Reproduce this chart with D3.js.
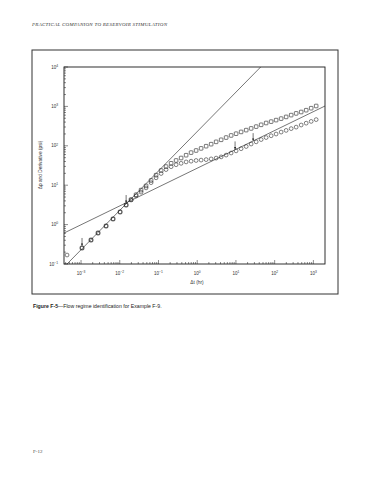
<!DOCTYPE html>
<html><head><meta charset="utf-8">
<script src="https://cdn.jsdelivr.net/npm/d3@7"></script>
<style>body{margin:0;background:#fff}svg{display:block}</style>
</head><body><svg id="c" width="370" height="480"></svg>
<script>
// ---- data ----
const timeEarly = [1.06e-3,1.81e-3,2.75e-3,4.43e-3,6.71e-3,1.02e-2,1.46e-2];
const pEarly = [0.255,0.406,0.612,0.921,1.39,2.09,3.14];
const timeLate = [0.0196,0.0264,0.0355,0.0478,0.0644,0.0867,0.117,0.157,0.212,0.285,
  0.384,0.517,0.695,0.937,1.26,1.70,2.29,3.08,4.15,5.58,7.52,10.1,13.6,18.4,24.7,33.3,
  44.8,60.3,81.2,109,147,198,267,359,484,652,877,1180];
const deltaPLate = [4.21,5.35,6.68,8.54,11.6,15.4,19.8,24.9,29.5,33.1,
  35.9,39.0,40.7,42.4,43.4,44.6,46.5,48.7,52.3,58.1,65.7,74.3,84.4,96.0,111,126,
  144,162,180,199,223,246,273,298,337,375,416,462];
const derivLate = [4.31,5.74,7.51,9.60,13.2,18.0,23.6,29.7,35.9,42.4,
  49.0,57.7,67.2,76.0,85.9,97.7,110,126,142,162,183,203,225,250,276,307,
  341,379,411,449,490,541,601,664,721,801,900,1024];
const firstTime = 4.35e-4, firstDeltaP = 0.169;
const timeDp = [firstTime, ...timeEarly, ...timeLate];
const deltaP = [firstDeltaP, ...pEarly, ...deltaPLate];
const timeDer = [...timeEarly, ...timeLate];
const derivative = [...pEarly, ...derivLate];
const unitSlopeT = [4.35e-4, 43.5];
const unitSlopeP = [0.1, 1e4];
const halfSlopeT = [3.63e-4, 1995];
const halfSlopeP = [0.61, 1023];
const arrowT = [1.06e-3, 1.46e-2, 9.5, 27.8];
const arrowP = [0.255, 3.14, 72, 117];
const xTickExp = [-3,-2,-1,0,1,2,3];
const yTickExp = [-1,0,1,2,3,4];
const xDomain = [Math.pow(10,-3.44), Math.pow(10,3.3)];
const yDomain = [0.1, 1e4];

// ---- drawing ----
const svg = d3.select("#c");
const ink = "#1a1a1a";
const L = 64, R = 325, T = 67, B = 264;
const x = d3.scaleLog().domain(xDomain).range([L, R]);
const y = d3.scaleLog().domain(yDomain).range([B, T]);

svg.append("rect").attr("width",370).attr("height",480).attr("fill","#fff");

// header
svg.append("text").attr("x",32).attr("y",26)
  .attr("font-family","Liberation Serif, serif").attr("font-style","italic")
  .attr("font-size",5).attr("textLength",135).attr("fill","#333")
  .text("PRACTICAL COMPANION TO RESERVOIR STIMULATION");

// outer frame
svg.append("rect").attr("x",32).attr("y",50).attr("width",306).attr("height",244)
  .attr("fill","none").attr("stroke","#333").attr("stroke-width",1);

// plot frame
svg.append("rect").attr("x",L).attr("y",T).attr("width",R-L).attr("height",B-T)
  .attr("fill","none").attr("stroke",ink).attr("stroke-width",0.9);

// ticks
const g = svg.append("g").attr("stroke",ink).attr("stroke-width",0.5);
function logTicks(dom){
  const out=[]; const a=Math.floor(Math.log10(dom[0])), b=Math.ceil(Math.log10(dom[1]));
  for(let e=a;e<=b;e++) for(let m=1;m<10;m++){const v=m*Math.pow(10,e); if(v>=dom[0]&&v<=dom[1]) out.push({v,major:m===1});}
  return out;
}
logTicks(xDomain).forEach(d=>{
  g.append("line").attr("x1",x(d.v)).attr("x2",x(d.v)).attr("y1",B).attr("y2",B-(d.major?4:2));
});
logTicks(yDomain).forEach(d=>{
  g.append("line").attr("y1",y(d.v)).attr("y2",y(d.v)).attr("x1",L).attr("x2",L+(d.major?4:2));
});

// tick labels
const font = "Liberation Sans, Arial, sans-serif";
function pow10(sel, e){
  sel.append("tspan").text("10");
  sel.append("tspan").attr("dy",-1.8).attr("font-size",3.3).text(e<0?"−"+(-e):String(e));
}
xTickExp.forEach(e=>{
  const t = svg.append("text").attr("x",x(Math.pow(10,e))).attr("y",275)
    .attr("text-anchor","middle").attr("font-family",font).attr("font-size",4.5).attr("fill","#333");
  pow10(t,e);
});
yTickExp.forEach(e=>{
  const t = svg.append("text").attr("x",58).attr("y",y(Math.pow(10,e))+1.6)
    .attr("text-anchor","end").attr("font-family",font).attr("font-size",4.5).attr("fill","#333");
  pow10(t,e);
});

// axis titles
svg.append("text").attr("x",197).attr("y",284).attr("text-anchor","middle")
  .attr("font-family",font).attr("font-size",4.8).attr("fill","#333").text("Δt (hr)");
svg.append("text").attr("transform","translate(42,165) rotate(-90)").attr("text-anchor","middle")
  .attr("font-family",font).attr("font-size",4.8).attr("fill","#333").text("Δp and Derivative (psi)");

// reference lines
const line = d3.line().x(d=>x(d[0])).y(d=>y(d[1]));
svg.append("defs").append("clipPath").attr("id","clip").append("rect")
  .attr("x",L).attr("y",T).attr("width",R-L).attr("height",B-T);
const plot = svg.append("g").attr("clip-path","url(#clip)");
plot.append("path").attr("d",line(d3.zip(unitSlopeT,unitSlopeP)))
  .attr("fill","none").attr("stroke",ink).attr("stroke-width",0.6);
plot.append("path").attr("d",line(d3.zip(halfSlopeT,halfSlopeP)))
  .attr("fill","none").attr("stroke",ink).attr("stroke-width",0.6);

// derivative (squares)
plot.selectAll("rect.der").data(d3.zip(timeDer,derivative)).join("rect")
  .attr("class","der").attr("x",d=>x(d[0])-1.8).attr("y",d=>y(d[1])-1.8)
  .attr("width",3.6).attr("height",3.6).attr("rx",0.6)
  .attr("fill","none").attr("stroke",ink).attr("stroke-width",0.6);
// delta p (circles)
plot.selectAll("circle.dp").data(d3.zip(timeDp,deltaP)).join("circle")
  .attr("class","dp").attr("cx",d=>x(d[0])).attr("cy",d=>y(d[1])).attr("r",1.9)
  .attr("fill","none").attr("stroke",ink).attr("stroke-width",0.55);

// arrows
d3.zip(arrowT,arrowP).forEach(d=>{
  const ax=x(d[0]), ay=y(d[1]);
  svg.append("line").attr("x1",ax).attr("x2",ax).attr("y1",ay-10).attr("y2",ay-2.5)
    .attr("stroke",ink).attr("stroke-width",0.6);
  svg.append("path").attr("d",`M${ax-1},${ay-4.5}L${ax+1},${ay-4.5}L${ax},${ay-2}Z`).attr("fill",ink);
});

// caption
const cap = svg.append("text").attr("x",33).attr("y",308).attr("font-family",font)
  .attr("font-size",5.2).attr("fill","#222");
cap.append("tspan").attr("font-weight","bold").text("Figure F-5");
cap.append("tspan").text("—Flow regime identification for Example F-9.");

// footer
svg.append("text").attr("x",33).attr("y",453).attr("font-family","Liberation Serif, serif")
  .attr("font-size",5).attr("fill","#444").text("F-12");
</script></body></html>
